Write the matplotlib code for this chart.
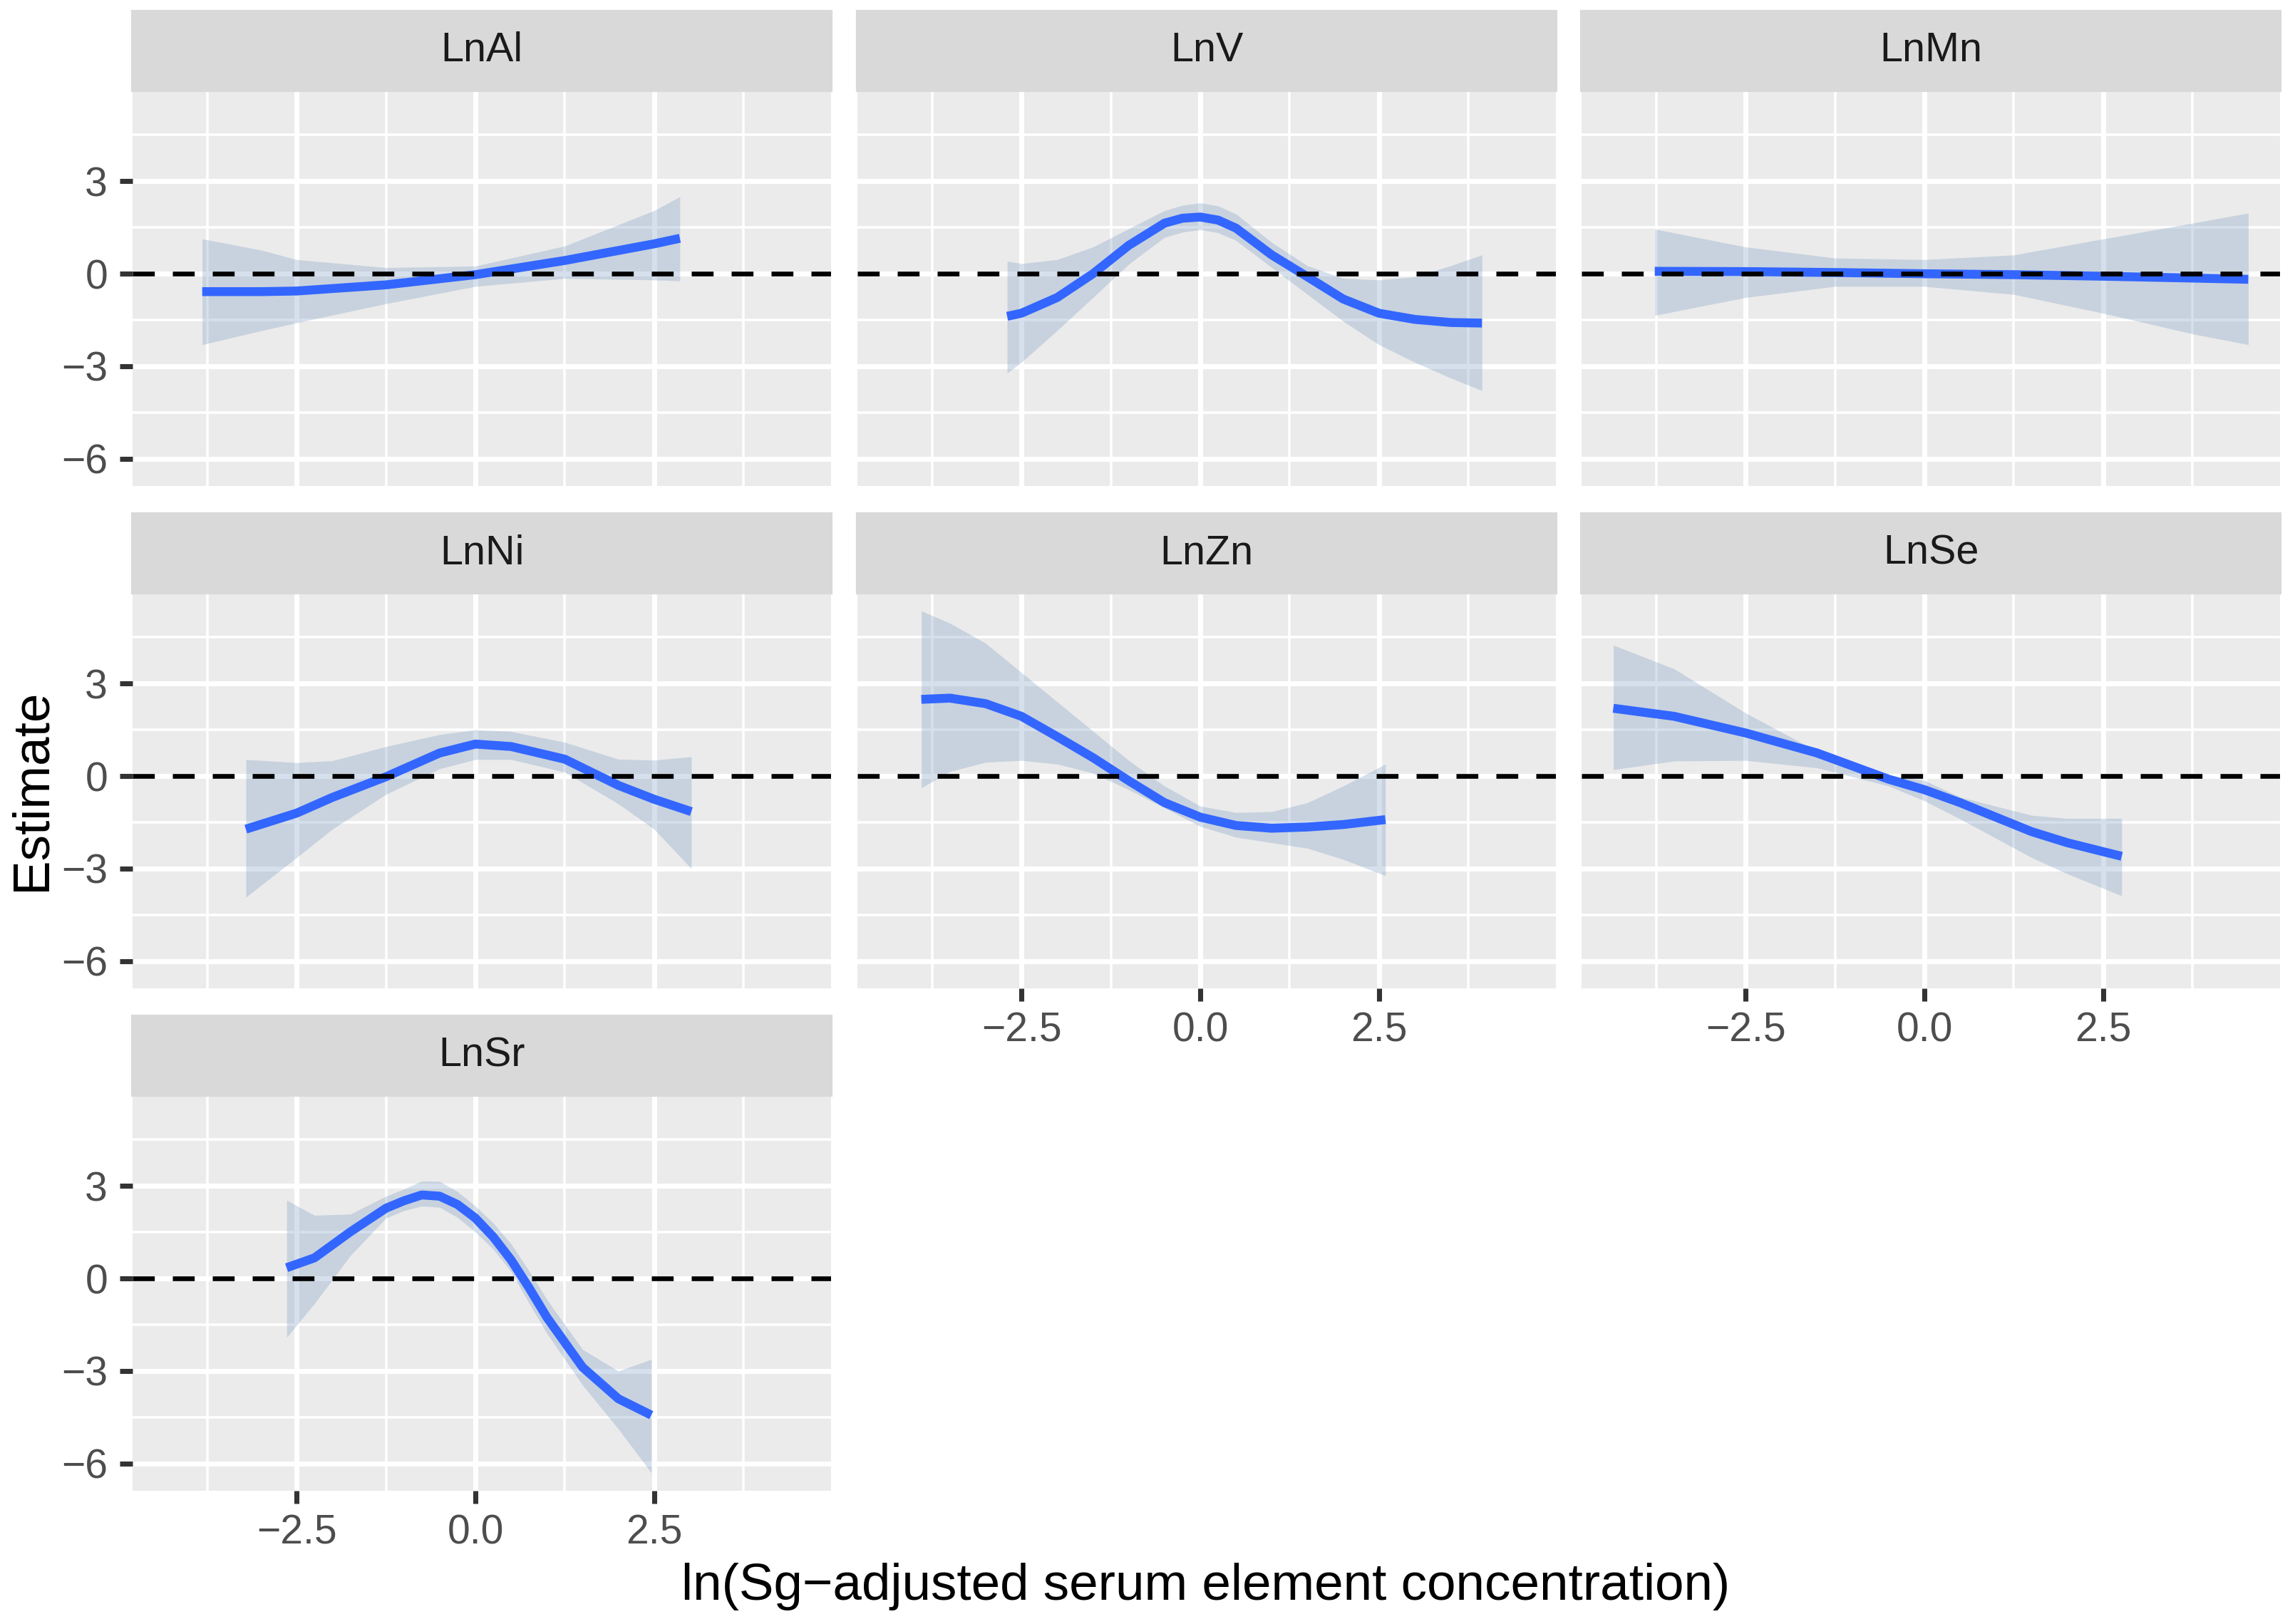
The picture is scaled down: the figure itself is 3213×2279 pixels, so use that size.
import numpy as np
import matplotlib
matplotlib.use('Agg')
import matplotlib.pyplot as plt
from matplotlib.patches import Rectangle

plt.rcParams['font.family'] = ['Liberation Sans', 'DejaVu Sans']

# datos: x, estimacion, limite inferior y superior
panels = ['LnAl', 'LnV', 'LnMn', 'LnNi', 'LnZn', 'LnSe', 'LnSr']

al_x = [-3.82, -3.0, -2.5, -1.25, 0.0, 1.25, 2.5, 2.86]
al_est = [-0.58, -0.58, -0.56, -0.36, -0.03, 0.43, 0.97, 1.15]
al_lo = [-2.3, -1.85, -1.59, -0.97, -0.41, -0.15, -0.2, -0.23]
al_hi = [1.13, 0.77, 0.46, 0.2, 0.25, 0.9, 2.05, 2.5]

v_x = [-2.70, -2.5, -2.0, -1.5, -1.0, -0.5, -0.25, 0.0, 0.25, 0.5, 1.0, 1.5, 2.0, 2.5, 3.0, 3.5, 3.94]
v_est = [-1.38, -1.28, -0.77, 0.0, 0.92, 1.64, 1.8, 1.84, 1.74, 1.48, 0.61, -0.1, -0.82, -1.28, -1.48, -1.58, -1.6]
v_lo = [-3.22, -2.87, -1.84, -0.77, 0.31, 1.18, 1.35, 1.43, 1.33, 1.08, 0.2, -0.67, -1.54, -2.3, -2.87, -3.38, -3.79]
v_hi = [0.41, 0.33, 0.46, 0.87, 1.46, 2.05, 2.22, 2.3, 2.2, 1.94, 1.02, 0.26, -0.15, -0.2, -0.1, 0.26, 0.61]

mn_x = [-3.77, -2.5, -1.25, 0.0, 1.25, 2.5, 3.75, 4.53]
mn_est = [0.08, 0.07, 0.04, 0.0, -0.03, -0.08, -0.14, -0.18]
mn_lo = [-1.35, -0.77, -0.41, -0.41, -0.67, -1.28, -1.95, -2.30]
mn_hi = [1.45, 0.87, 0.51, 0.46, 0.61, 1.13, 1.64, 1.97]

ni_x = [-3.21, -2.5, -2.0, -1.25, -0.5, 0.0, 0.5, 1.25, 2.0, 2.5, 3.02]
ni_est = [-1.72, -1.2, -0.69, -0.02, 0.75, 1.04, 0.96, 0.55, -0.3, -0.75, -1.15]
ni_lo = [-3.93, -2.64, -1.72, -0.59, 0.24, 0.54, 0.54, 0.13, -0.9, -1.72, -3.0]
ni_hi = [0.54, 0.44, 0.5, 0.96, 1.35, 1.5, 1.45, 1.1, 0.55, 0.52, 0.63]

zn_x = [-3.9, -3.5, -3.0, -2.5, -2.0, -1.5, -1.0, -0.5, 0.0, 0.5, 1.0, 1.5, 2.0, 2.59]
zn_est = [2.49, 2.53, 2.35, 1.94, 1.28, 0.6, -0.15, -0.86, -1.33, -1.6, -1.69, -1.65, -1.57, -1.41]
zn_lo = [-0.38, 0.15, 0.45, 0.51, 0.39, 0.1, -0.44, -1.03, -1.63, -1.98, -2.16, -2.34, -2.7, -3.23]
zn_hi = [5.36, 4.96, 4.31, 3.36, 2.41, 1.46, 0.51, -0.32, -0.97, -1.18, -1.15, -0.86, -0.32, 0.39]

se_x = [-4.35, -3.5, -2.5, -1.5, -0.5, 0.0, 0.5, 1.5, 2.0, 2.76]
se_est = [2.2, 1.94, 1.40, 0.75, -0.1, -0.44, -0.86, -1.8, -2.16, -2.6]
se_lo = [0.21, 0.49, 0.51, 0.27, -0.32, -0.8, -1.39, -2.64, -3.17, -3.88]
se_hi = [4.25, 3.48, 2.05, 0.81, 0.04, -0.14, -0.68, -1.27, -1.37, -1.37]

sr_x = [-2.64, -2.25, -1.75, -1.25, -1.0, -0.75, -0.5, -0.25, 0.0, 0.25, 0.5, 0.75, 1.0, 1.5, 2.0, 2.46]
sr_est = [0.35, 0.67, 1.51, 2.28, 2.52, 2.71, 2.67, 2.4, 1.96, 1.35, 0.6, -0.3, -1.26, -2.88, -3.9, -4.43]
sr_lo = [-1.91, -0.81, 0.74, 1.96, 2.2, 2.35, 2.31, 1.98, 1.51, 0.95, 0.22, -0.8, -1.78, -3.46, -4.88, -6.3]
sr_hi = [2.54, 2.05, 2.09, 2.67, 2.9, 3.16, 3.15, 2.82, 2.35, 1.8, 1.12, 0.25, -0.68, -2.3, -3.0, -2.62]

curves = [(al_x, al_est, al_lo, al_hi), (v_x, v_est, v_lo, v_hi), (mn_x, mn_est, mn_lo, mn_hi),
          (ni_x, ni_est, ni_lo, ni_hi), (zn_x, zn_est, zn_lo, zn_hi), (se_x, se_est, se_lo, se_hi),
          (sr_x, sr_est, sr_lo, sr_hi)]

x_ticks = [-2.5, 0.0, 2.5]
x_ticklabels = ['\u22122.5', '0.0', '2.5']
y_ticks = [-6, -3, 0, 3]
y_ticklabels = ['\u22126', '\u22123', '0', '3']

# rango comun con expansion de 5% como ggplot
all_x = np.concatenate([c[0] for c in curves])
all_y = np.concatenate([np.concatenate([c[2], c[3]]) for c in curves])
xr = all_x.max() - all_x.min()
yr = all_y.max() - all_y.min()
xlim = (all_x.min() - 0.05 * xr, all_x.max() + 0.05 * xr)
ylim = (all_y.min() - 0.05 * yr, all_y.max() + 0.05 * yr)

W, H = 3213, 2279
col_left = [186, 1203, 2219]
row_top = [16, 721, 1426]
pw, ph, sh = 980, 555, 111

fig = plt.figure(figsize=(W / 300, H / 300), dpi=300)

for i, name in enumerate(panels):
    r, c = divmod(i, 3)
    x, est, lo, hi = curves[i]
    top = row_top[r] + sh
    ax = fig.add_axes([col_left[c] / W, 1 - (top + ph) / H, pw / W, ph / H])
    ax.set_facecolor('#EBEBEB')
    for s in ax.spines.values():
        s.set_visible(False)
    ax.fill_between(x, lo, hi, color='#7F9FC4', alpha=0.32, lw=0, zorder=2)
    ax.plot(x, est, color='#3366FF', lw=3.0, solid_capstyle='butt', solid_joinstyle='round', zorder=3)
    ax.axhline(0, color='black', lw=1.6, ls=(0, (4.6, 3.8)), dash_capstyle='butt', zorder=4)
    ax.set_xlim(xlim)
    ax.set_ylim(ylim)
    ax.set_xticks(x_ticks)
    ax.set_xticklabels(x_ticklabels)
    ax.set_yticks(y_ticks)
    ax.set_yticklabels(y_ticklabels)
    ax.set_xticks([-3.75, -1.25, 1.25, 3.75], minor=True)
    ax.set_yticks([-4.5, -1.5, 1.5, 4.5], minor=True)
    ax.grid(which='major', color='white', lw=1.7)
    ax.grid(which='minor', color='white', lw=0.85)
    ax.set_axisbelow(True)
    ax.tick_params(which='minor', length=0)
    bottom_panel = name in ('LnZn', 'LnSe', 'LnSr')
    ax.tick_params(axis='x', which='major', length=4.4, width=1.7, color='#333333',
                   labelcolor='#4D4D4D', labelsize=13.7, pad=3.5,
                   bottom=bottom_panel, labelbottom=bottom_panel)
    ax.tick_params(axis='y', which='major', length=4.4, width=1.7, color='#333333',
                   labelcolor='#4D4D4D', labelsize=13.7, pad=4,
                   left=(c == 0), labelleft=(c == 0))

    # tira del facet
    fig.patches.append(Rectangle((col_left[c] / W, 1 - top / H), pw / W, sh / H,
                                 transform=fig.transFigure, color='#D9D9D9', zorder=0))
    fig.text((col_left[c] + pw / 2) / W, 1 - (row_top[r] + sh / 2) / H, name,
             ha='center', va='center', fontsize=13.8, color='#1A1A1A')

fig.text(45 / W, 1 - 1108 / H, 'Estimate', rotation=90, ha='center', va='center', fontsize=17.5)
fig.text(1692 / W, 1 - 2227 / H, 'ln(Sg\u2212adjusted serum element concentration)',
         ha='center', va='center', fontsize=17.5)

fig.savefig('out.png', dpi=300)
